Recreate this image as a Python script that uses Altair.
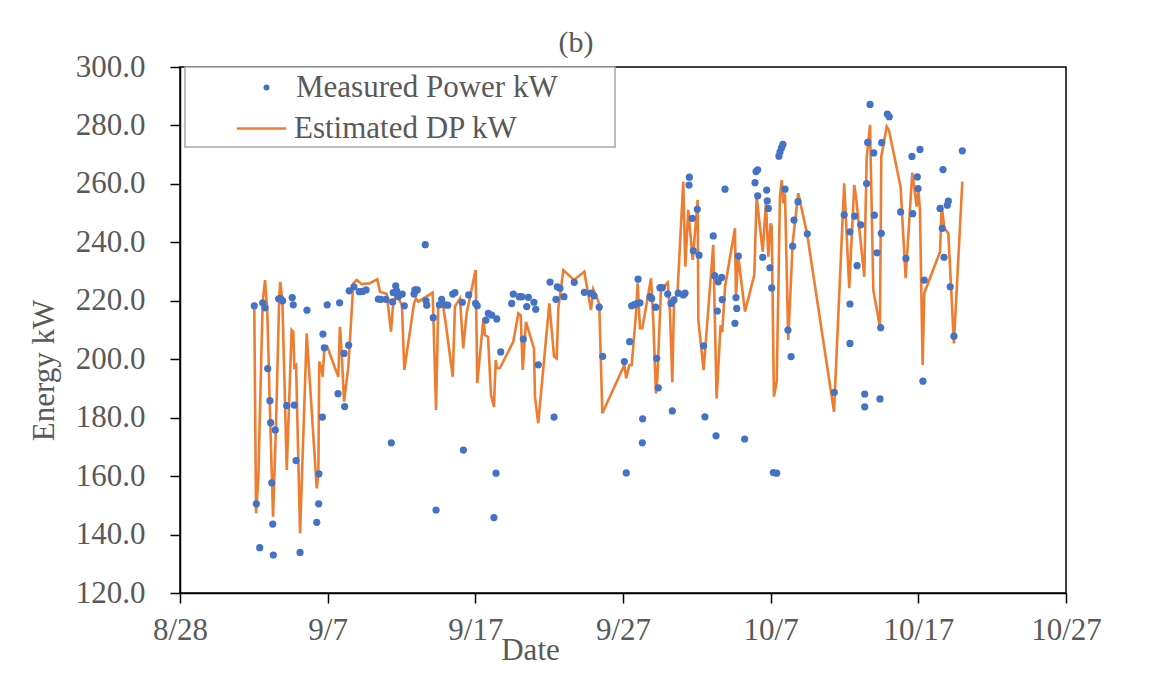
import altair as alt
import pandas as pd

# ---------------- data (days after 8/28, value in kW) ----------------
measured_day = [
    5.03, 5.17, 5.40, 5.60, 5.76, 5.94, 6.09, 6.14, 6.21, 6.28, 6.32, 6.45, 6.68, 6.82, 6.95,
    7.23, 7.60, 7.67, 7.74, 7.86, 8.13, 8.60, 9.26, 9.39, 9.41, 9.64, 9.68, 9.77, 9.97, 10.70,
    10.81, 11.11, 11.15, 11.42, 11.46, 11.78, 12.14, 12.37, 12.60, 13.43, 13.61, 13.95, 14.31,
    14.40, 14.44, 14.61, 14.67, 14.78, 15.05, 15.19, 15.85, 15.91, 16.07, 16.61, 16.66, 16.71,
    17.15, 17.34, 17.56, 17.72, 17.95, 18.13, 18.47, 18.62, 19.12, 19.19, 19.55, 20.02, 20.13,
    20.72, 20.88, 21.11, 21.26, 21.40, 21.45, 21.72, 22.46, 22.57, 22.98, 23.14, 23.25, 23.48,
    23.59, 23.97, 24.09, 24.26, 25.06, 25.33, 25.46, 25.55, 25.73, 26.00, 26.70, 27.38, 27.83,
    28.04, 28.39, 28.62, 30.09, 30.22, 30.45, 30.59, 30.77, 30.93, 31.02, 31.15, 31.31, 31.33,
    31.83, 31.94, 32.21, 32.28, 32.39, 32.50, 32.66, 33.03, 33.25, 33.34, 33.45, 33.74, 34.08,
    34.20, 34.49, 34.47, 34.69, 34.76, 35.03, 35.15, 35.46, 35.55, 36.11, 36.21, 36.30, 36.39,
    36.45, 36.68, 36.72, 36.91, 37.58, 37.65, 37.70, 37.81, 38.24, 38.94, 39.01, 39.12, 39.12,
    39.46, 39.73, 39.77, 39.84, 39.95, 40.07, 40.18, 40.41, 40.56, 40.63, 40.73, 40.83, 40.97,
    41.17, 41.38, 41.49, 41.58, 41.85, 42.48, 44.31, 44.98, 45.37, 45.37, 45.37, 45.69, 45.85,
    46.10, 46.37, 46.37, 46.50, 46.57, 46.73, 46.98, 47.02, 47.20, 47.40, 47.45, 47.49, 47.52,
    47.90, 48.03, 48.80, 49.16, 49.57, 49.62, 49.93, 49.98, 50.11, 50.31, 50.40, 51.47, 51.62,
    51.67, 51.74, 51.96, 52.03, 52.16, 52.41, 52.98,
]
measured_kw = [
    218.3, 150.5, 135.5, 219.3, 217.6, 196.8, 185.8, 178.3, 157.7, 143.6, 133.0, 175.8, 220.7, 220.7, 220.0,
    184.1, 221.1, 218.6, 184.3, 165.3, 133.9, 216.8, 144.2, 150.5, 160.8, 180.2, 208.6, 203.9, 218.6, 188.2,
    219.3, 202.0, 183.8, 204.8, 223.4, 224.8, 223.1, 223.2, 223.7, 220.6, 220.5, 220.5, 171.4,
    219.6, 222.8, 225.1, 223.4, 221.4, 222.3, 218.3, 222.3, 223.7, 223.7, 239.2, 220.0, 218.5,
    214.2, 148.4, 218.6, 220.5, 218.6, 218.5, 222.3, 222.8, 219.5, 168.9, 222.0, 219.1, 218.3,
    213.4, 215.7, 215.1, 145.8, 161.0, 213.8, 202.5, 219.1, 222.3, 221.4, 221.4, 206.9, 218.0,
    221.2, 219.5, 217.1, 198.1, 226.4, 180.2, 220.5, 224.8, 224.3, 221.4, 226.3, 222.9, 222.6,
    221.7, 217.8, 201.0, 199.2, 161.1, 206.0, 218.3, 218.7, 219.0, 227.4, 219.3, 171.4, 179.6,
    221.4, 220.8, 217.8, 200.3, 190.2, 224.5, 224.5, 222.3, 219.1, 182.3, 220.3, 222.6, 222.0,
    222.6, 262.3, 259.6, 248.2, 237.1, 251.3, 235.6, 204.6, 180.3, 242.2, 228.6, 173.8, 216.5,
    226.5, 228.0, 220.4, 258.2, 212.3, 221.1, 217.4, 235.3, 172.7, 260.4, 264.2, 264.8, 255.9,
    234.9, 257.9, 254.2, 251.6, 231.3, 224.4, 161.2, 161.0, 269.5, 270.9, 272.3, 273.5, 258.2,
    210.0, 200.9, 238.7, 247.6, 253.9, 242.9, 188.7, 249.4, 243.6, 218.9, 205.4, 249.0, 232.0,
    246.0, 188.1, 183.7, 260.1, 274.2, 287.2, 270.6, 249.3, 236.4, 186.4, 210.8, 243.1, 274.1,
    283.9, 283.0, 250.4, 234.5, 269.4, 249.8, 262.4, 258.4, 271.8, 192.5, 227.1, 251.6, 244.8,
    264.9, 234.9, 252.7, 254.1, 224.8, 207.9, 271.3,
]

estimated_day = [
    5.03, 5.15, 5.30, 5.60, 5.76, 5.91, 6.09, 6.30, 6.50, 6.72, 6.79, 6.93, 7.23, 7.56, 7.67,
    7.74, 7.86, 8.13, 8.58, 9.26, 9.37, 9.43, 9.55, 9.66, 9.77, 9.97, 10.72, 10.83, 10.95, 11.11,
    11.40, 11.74, 11.97, 12.30, 12.87, 13.36, 13.54, 14.00, 14.29, 14.44, 14.63, 15.03, 15.19,
    15.85, 15.98, 16.14, 17.11, 17.34, 17.49, 17.83, 18.01, 18.47, 18.62, 18.96, 19.18, 19.41,
    20.02, 20.13, 20.55, 20.65, 20.86, 21.06, 21.26, 21.38, 21.45, 21.67, 22.57, 22.91, 23.07,
    23.21, 23.43, 23.97, 24.04, 24.26, 25.01, 25.33, 25.51, 25.62, 25.96, 26.68, 27.38, 27.83,
    27.99, 28.39, 28.60, 30.09, 30.22, 30.43, 30.59, 30.88, 30.99, 31.15, 31.31, 31.90, 32.05,
    32.23, 32.32, 32.57, 33.03, 33.18, 33.34, 33.45, 33.70, 34.08, 34.22, 34.42, 34.72, 35.06,
    35.10, 35.46, 36.11, 36.34, 36.61, 36.72, 36.91, 37.58, 37.65, 37.81, 38.26, 38.89, 39.05,
    39.46, 39.68, 39.84, 40.00, 40.07, 40.22, 40.41, 40.63, 40.75, 40.85, 40.97, 41.19, 41.49,
    41.87, 42.48, 44.29, 44.98, 45.32, 45.66, 45.78, 46.34, 46.50, 46.73, 46.95, 47.40, 47.49,
    47.86, 48.01, 48.80, 49.14, 49.59, 49.89, 50.00, 50.11, 50.29, 50.40, 51.47, 51.58, 51.76,
    52.03, 52.41, 52.98,
]
estimated_kw = [
    218.3, 147.3, 158.7, 219.7, 227.1, 216.8, 182.6, 146.1, 176.9, 221.4, 226.5, 220.3, 162.1, 210.0, 209.4,
    197.4, 198.0, 140.4, 208.9, 155.8, 161.0, 199.2, 197.4, 194.0, 203.2, 204.3, 194.0, 211.1, 202.0, 185.5,
    197.4, 226.0, 227.1, 225.7, 226.0, 227.4, 223.1, 222.3, 209.4, 219.1, 222.3, 218.6, 196.3,
    219.1, 220.8, 219.7, 222.8, 182.6, 218.6, 218.0, 211.7, 194.0, 218.0, 220.8, 203.7, 215.7,
    230.5, 191.8, 214.1, 208.3, 207.6, 187.8, 183.7, 199.7, 197.0, 197.0, 206.0, 215.7, 215.1,
    196.3, 212.8, 203.7, 187.2, 178.1, 219.1, 200.9, 200.3, 217.4, 230.5, 227.1, 230.0, 216.8,
    223.9, 219.1, 181.5, 198.0, 193.5, 198.0, 198.0, 215.7, 226.0, 210.6, 210.6, 227.7, 213.4,
    188.3, 192.9, 223.7, 226.2, 216.3, 192.1, 218.6, 223.7, 260.8, 231.7, 251.1, 234.0, 254.5,
    213.4, 196.3, 239.1, 186.6, 211.7, 209.3, 224.8, 244.8, 221.4, 235.1, 216.3, 228.8, 255.6,
    236.8, 253.4, 235.1, 246.5, 245.4, 187.2, 192.3, 255.6, 261.3, 253.4, 256.8, 206.6, 239.7,
    256.8, 242.5, 182.0, 260.2, 224.3, 259.6, 255.6, 228.2, 268.8, 280.2, 223.7, 211.1, 269.3,
    279.6, 278.4, 259.0, 227.7, 263.8, 252.2, 257.9, 251.1, 198.0, 222.6, 236.8, 252.8, 244.8,
    243.1, 205.4, 260.8,
]

series_names = ["Measured Power kW", "Estimated DP kW"]
series_colors = ["#4472C4", "#ED7D31"]
tick_day = [0, 10, 20, 30, 40, 50, 60]          # 8/28 ... 10/27
y_ticks = [120, 140, 160, 180, 200, 220, 240, 260, 280, 300]

BASE = pd.Timestamp("2021-08-28")


def to_dates(days):
    return [BASE + pd.Timedelta(days=d) for d in days]


def dt(ts):
    return alt.DateTime(year=ts.year, month=ts.month, date=ts.day)


meas = pd.DataFrame({"date": to_dates(measured_day), "kw": measured_kw,
                     "series": series_names[0]})
est = pd.DataFrame({"date": to_dates(estimated_day), "kw": estimated_kw,
                    "series": series_names[1]})

tick_dates = [dt(t) for t in to_dates(tick_day)]
x_scale = alt.Scale(domain=[tick_dates[0], tick_dates[-1]], nice=False)
y_scale = alt.Scale(domain=[120, 300], nice=False, zero=False)

FONT = "Liberation Serif"
GRAY = "#595959"

x_enc = alt.X("date:T", scale=x_scale,
              axis=alt.Axis(values=tick_dates, format="%-m/%-d", title="Date",
                            labelPadding=12, titleX=350, titleY=66,
                            titleBaseline="alphabetic", labelFlush=False))
y_enc = alt.Y("kw:Q", scale=y_scale,
              axis=alt.Axis(values=y_ticks, format=".1f", title="Energy kW",
                            labelPadding=25, titleX=-127, titleY=303,
                            titleBaseline="alphabetic"))

legend_box = alt.Chart(pd.DataFrame({"k": [0]})).mark_rect(
    fill="white", stroke="#a6a6a6", strokeWidth=1.5
).encode(x=alt.value(5), x2=alt.value(435), y=alt.value(0), y2=alt.value(80))

points = alt.Chart(meas).mark_circle(size=52, opacity=1).encode(
    x=x_enc, y=y_enc,
    color=alt.Color("series:N",
                    scale=alt.Scale(domain=[series_names[0]], range=[series_colors[0]]),
                    legend=alt.Legend(title=None, orient="none", legendX=71, legendY=5,
                                      symbolSize=36, symbolType="circle",
                                      labelOffset=14, padding=0)),
)

line = alt.Chart(est).mark_line(strokeWidth=2.6).encode(
    x=x_enc, y=y_enc,
    stroke=alt.Stroke("series:N",
                      scale=alt.Scale(domain=[series_names[1]], range=[series_colors[1]]),
                      legend=alt.Legend(title=None, orient="none", legendX=55, legendY=35,
                                        symbolType="stroke", symbolSize=2450,
                                        symbolStrokeWidth=2.6, labelOffset=6,
                                        padding=0)),
)

chart = alt.layer(legend_box, line, points).resolve_scale(
    color="independent", stroke="independent"
).properties(
    width=886, height=526,
    autosize=alt.AutoSizeParams(type="none"),
    padding={"left": 172, "top": 59, "right": 76, "bottom": 74},
    title=alt.TitleParams("(b)", font=FONT, fontSize=30, fontWeight="normal",
                          color=GRAY, anchor="middle", dx=-47, dy=15, offset=8),
).configure_view(
    stroke="#000000", strokeWidth=1.5
).configure_axis(
    grid=False, domainColor="#000000", domainWidth=1.5, tickColor="#000000",
    tickWidth=1.5, tickSize=10, labelFont=FONT, labelFontSize=31, labelColor=GRAY,
    titleFont=FONT, titleFontSize=31, titleFontWeight="normal", titleColor=GRAY,
).configure_legend(
    labelFont=FONT, labelFontSize=31, labelColor=GRAY, labelLimit=0,
)

chart.save("out.html", embed_options={"renderer": "svg", "actions": False})
